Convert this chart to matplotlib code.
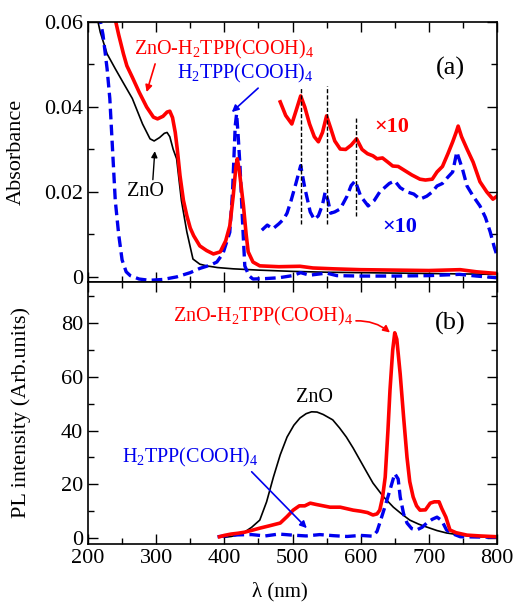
import matplotlib
matplotlib.use("Agg")
import matplotlib.pyplot as plt
from matplotlib.ticker import MultipleLocator

plt.rcParams["font.family"] = "serif"
plt.rcParams["font.serif"] = ["Liberation Serif", "DejaVu Serif"]
plt.rcParams["mathtext.fontset"] = "custom"
plt.rcParams["mathtext.rm"] = "Liberation Serif"
plt.rcParams["mathtext.it"] = "Liberation Serif:italic"
plt.rcParams["mathtext.bf"] = "Liberation Serif:bold"

RED = "#ff0000"
BLUE = "#0000ee"

# ===== (a) absorbance =====
abs_zno_x = [212, 218, 228, 240, 251, 265, 280, 291, 297, 305, 312, 316, 320, 325, 330, 337,
             345, 354, 364, 374, 390, 413, 450, 500, 550, 600, 650, 700, 750, 800]
abs_zno_y = [0.062, 0.0576, 0.0525, 0.049, 0.0459, 0.042, 0.036, 0.0325, 0.032, 0.0328, 0.0338,
             0.034, 0.033, 0.030, 0.0278, 0.018, 0.0106, 0.0042, 0.0030, 0.0026, 0.0022, 0.0019,
             0.0016, 0.0013, 0.0011, 0.0010, 0.0009, 0.0008, 0.0007, 0.0006]

abs_hyb_x = [238, 245, 252, 257, 265, 275, 286, 296, 302, 310, 316, 320, 324, 328, 331, 335,
             340, 345, 350, 355, 364, 374, 384, 394, 402, 408, 413, 417, 419, 422, 428, 432,
             435, 442, 452, 480, 511, 530, 560, 600, 650, 700, 746, 770, 800]
abs_hyb_y = [0.062, 0.057, 0.0525, 0.0497, 0.047, 0.0435, 0.040, 0.0376, 0.0372, 0.0378,
             0.0388, 0.039, 0.0375, 0.034, 0.030, 0.0238, 0.018, 0.0144, 0.0115, 0.0097,
             0.0073, 0.0062, 0.0054, 0.0059, 0.0085, 0.012, 0.019, 0.026, 0.0278, 0.025,
             0.0168, 0.010, 0.0059, 0.0035, 0.0026, 0.0024, 0.0025, 0.0021, 0.0019, 0.0017,
             0.0016, 0.0015, 0.0017, 0.0012, 0.0008]

abs_hyb10_x = [482, 490, 499, 505, 512, 518, 525, 532, 538, 544, 550, 556, 562, 570, 578, 586,
               594, 602, 610, 618, 624, 632, 640, 647, 655, 665, 675, 687, 695, 705, 712, 720,
               728, 735, 740, 743, 748, 756, 765, 775, 785, 794, 800]
abs_hyb10_y = [0.0412, 0.038, 0.036, 0.039, 0.0426, 0.040, 0.036, 0.033, 0.0318, 0.034, 0.0379,
               0.035, 0.032, 0.0301, 0.030, 0.031, 0.0325, 0.030, 0.029, 0.0285, 0.0278, 0.028,
               0.027, 0.0261, 0.026, 0.025, 0.024, 0.023, 0.0228, 0.023, 0.0247, 0.026, 0.029,
               0.0318, 0.034, 0.0355, 0.033, 0.0301, 0.027, 0.0224, 0.020, 0.0183, 0.019]

abs_por_x = [216, 222, 228, 232, 236, 240, 245, 250, 256, 262, 275, 290, 310, 330, 350, 364,
             380, 389, 398, 404, 408, 412, 416, 418, 420, 423, 427, 430, 436, 442, 460, 480,
             500, 512, 525, 540, 550, 565, 600, 650, 700, 745, 770, 800]
abs_por_y = [0.062, 0.057, 0.049, 0.042, 0.030, 0.018, 0.010, 0.004, 0.0012, 0.0003, -0.0005,
             -0.0008, -0.0006, 0.0000, 0.0010, 0.0020, 0.0028, 0.0035, 0.0055, 0.0085, 0.0105,
             0.020, 0.0356, 0.0384, 0.034, 0.026, 0.012, 0.0026, 0.0003, -0.0005, -0.0004,
             -0.0002, 0.0003, 0.0010, 0.0004, 0.0007, 0.0009, 0.0003, 0.0002, 0.0002, 0.0003,
             0.0006, 0.0002, -0.0002]

abs_por10_x = [455, 463, 471, 480, 487, 492, 498, 505, 512, 518, 526, 532, 538, 544, 548, 552,
               556, 562, 570, 580, 586, 592, 600, 611, 620, 628, 635, 642, 650, 658, 668, 678,
               687, 697, 705, 712, 720, 728, 735, 741, 746, 750, 756, 765, 775, 783, 790, 796, 800]
abs_por10_y = [0.0110, 0.0122, 0.0113, 0.0125, 0.0136, 0.0150, 0.018, 0.022, 0.0262, 0.021,
               0.0153, 0.0135, 0.0144, 0.017, 0.020, 0.018, 0.015, 0.0153, 0.016, 0.019, 0.0215,
               0.0226, 0.019, 0.0167, 0.018, 0.020, 0.021, 0.022, 0.0226, 0.021, 0.020, 0.0195,
               0.0183, 0.019, 0.020, 0.0214, 0.022, 0.0235, 0.0247, 0.0294, 0.027, 0.025,
               0.0214, 0.019, 0.0167, 0.014, 0.0106, 0.007, 0.005]

peak_x = [512, 550, 593]
peak_top = [0.0447, 0.045, 0.0379]
peak_bot = [0.0125, 0.0125, 0.0144]

# ===== (b) PL =====
pl_zno_x = [400, 410, 420, 430, 440, 452, 462, 472, 482, 492, 502, 511, 520, 528, 536, 545, 552,
            559, 569, 579, 589, 599, 609, 618, 633, 648, 660, 672, 685, 697, 712, 726, 750, 771, 800]
pl_zno_y = [0.3, 0.6, 1.2, 2.3, 4.0, 6.7, 13.5, 22.7, 31, 37.6, 42, 44.7, 46.3, 47, 46.9, 46, 45,
            44, 41, 37.6, 33.5, 29, 24.5, 20.5, 15.5, 11.5, 9, 6.7, 5.2, 4.1, 2.8, 1.9, 1.0, 0.5, 0.2]

pl_hyb_x = [393, 400, 410, 420, 430, 442, 452, 465, 482, 492, 501, 510, 518, 526, 535, 545, 555,
            570, 589, 600, 610, 618, 624, 628, 632, 636, 640, 643, 647, 650, 653, 658, 663, 668,
            672, 677, 682, 687, 695, 702, 708, 715, 719, 725, 731, 740, 756, 775, 800]
pl_hyb_y = [0.5, 1.0, 1.5, 1.8, 2.2, 3.0, 3.7, 4.5, 5.6, 8, 10.4, 12, 12, 13, 12.5, 12, 11.5,
            11.5, 10.4, 10.0, 9.5, 8.6, 9, 10.4, 15, 22.7, 40, 55, 70, 76.4, 74, 61, 45, 30,
            21, 15.3, 12, 10.4, 10.5, 13, 13.5, 13.5, 11, 7.8, 3.0, 2.0, 1.1, 0.8, 0.5]

pl_por_x = [390, 400, 420, 440, 460, 480, 500, 520, 540, 560, 580, 600, 618, 624, 628, 636, 643,
            650, 655, 658, 663, 668, 675, 682, 690, 697, 705, 712, 719, 726, 736, 746, 770, 800]
pl_por_y = [0.5, 0.8, 1.2, 1.3, 0.8, 1.5, 1.1, 0.8, 1.3, 0.9, 0.6, 1.0, 0.7, 2.5, 5.6, 12, 17.9,
            24, 22, 15.3, 9, 5.6, 3.5, 3.0, 4.0, 5.6, 7, 7.8, 6.5, 3.0, 1.5, 0.5, 0.4, 0.3]

W, H = 519, 605
fig = plt.figure(figsize=(W / 100, H / 100), dpi=100)
left, right = 88 / W, 497 / W
ax_a = fig.add_axes([left, 1 - 282 / H, right - left, (282 - 22) / H])
ax_b = fig.add_axes([left, 1 - 544 / H, right - left, (544 - 282) / H])

dash = (0, (3.2, 1.6))

ax_a.plot(abs_zno_x, abs_zno_y, color="black", lw=1.2)
ax_a.plot(abs_por_x, abs_por_y, color=BLUE, lw=2.4, ls=dash)
ax_a.plot(abs_hyb_x, abs_hyb_y, color=RED, lw=2.6)
ax_a.plot(abs_por10_x, abs_por10_y, color=BLUE, lw=2.4, ls=dash)
ax_a.plot(abs_hyb10_x, abs_hyb10_y, color=RED, lw=2.6)
ax_a.vlines(peak_x, peak_bot, peak_top, colors="black", lw=1.0, linestyles=(0, (3, 1.5)))

ax_a.set_xlim(200, 800)
ax_a.set_ylim(-0.0012, 0.06)
ax_a.yaxis.set_minor_locator(MultipleLocator(0.01))
ax_a.set_yticks([0, 0.02, 0.04, 0.06])
ax_a.set_yticklabels(["0", "0.02", "0.04", "0.06"])
ax_a.tick_params(labelbottom=False)
ax_a.set_ylabel("Absorbance", fontsize=16)

lab = 14.5
ax_a.annotate("ZnO-H$_2$TPP(COOH)$_4$", xy=(286, 0.0435), xytext=(268, 0.0535),
              color=RED, fontsize=lab, va="center", ha="left",
              arrowprops=dict(arrowstyle="-|>", color=RED, lw=1.2, shrinkA=0, shrinkB=0,
                              mutation_scale=10, relpos=(0.12, 0)))
ax_a.annotate("H$_2$TPP(COOH)$_4$", xy=(411, 0.0388), xytext=(330, 0.0478),
              color=BLUE, fontsize=lab, va="center", ha="left",
              arrowprops=dict(arrowstyle="-|>", color=BLUE, lw=1.2, shrinkA=0, shrinkB=0,
                              mutation_scale=10, relpos=(0.62, 0)))
ax_a.annotate("ZnO", xy=(298, 0.0296), xytext=(284, 0.0200),
              color="black", fontsize=lab, va="center", ha="center",
              arrowprops=dict(arrowstyle="-|>", color="black", lw=1.0, shrinkA=0, shrinkB=0,
                              mutation_scale=9, relpos=(0.7, 1)))
ax_a.text(731, 0.049, "(a)", fontsize=19, ha="center", va="center")
ax_a.text(646, 0.0352, "×10", color=RED, fontsize=16, fontweight="bold", ha="center", va="center")
ax_a.text(658, 0.0118, "×10", color=BLUE, fontsize=16, fontweight="bold", ha="center", va="center")

ax_b.plot(pl_zno_x, pl_zno_y, color="black", lw=1.2)
ax_b.plot(pl_por_x, pl_por_y, color=BLUE, lw=2.4, ls=dash)
ax_b.plot(pl_hyb_x, pl_hyb_y, color=RED, lw=2.6)

ax_b.set_xlim(200, 800)
ax_b.set_ylim(-2.2, 95.3)
ax_b.yaxis.set_major_locator(MultipleLocator(20))
ax_b.yaxis.set_minor_locator(MultipleLocator(10))
ax_b.set_ylabel("PL intensity (Arb.units)", fontsize=16)
ax_b.set_xlabel("λ (nm)", fontsize=15)
ax_b.xaxis.set_label_coords(0.47, -0.145)

ax_b.annotate("ZnO-H$_2$TPP(COOH)$_4$", xy=(643, 76.5), xytext=(325, 82.5),
              color=RED, fontsize=lab, va="center", ha="left",
              arrowprops=dict(arrowstyle="-|>", color=RED, lw=1.2, shrinkA=0, shrinkB=0,
                              mutation_scale=10, relpos=(1, 0.3),
                              connectionstyle="arc3,rad=-0.2"))
ax_b.annotate("H$_2$TPP(COOH)$_4$", xy=(521, 3.7), xytext=(250, 30),
              color=BLUE, fontsize=lab, va="center", ha="left",
              arrowprops=dict(arrowstyle="-|>", color=BLUE, lw=1.2, shrinkA=0, shrinkB=0,
                              mutation_scale=10, relpos=(0.93, 0)))
ax_b.text(533, 52.5, "ZnO", fontsize=lab, ha="center", va="center")
ax_b.text(731, 80, "(b)", fontsize=19, ha="center", va="center")

for ax in (ax_a, ax_b):
    ax.xaxis.set_major_locator(MultipleLocator(100))
    ax.xaxis.set_minor_locator(MultipleLocator(50))
    ax.tick_params(which="both", direction="in", top=True, right=True, labelsize=16)
    ax.tick_params(which="major", length=7, width=1.0)
    ax.tick_params(which="minor", length=4, width=1.0)
    for s in ax.spines.values():
        s.set_linewidth(1.2)

ax_a.yaxis.set_label_coords(-0.152, 0.5)
ax_b.yaxis.set_label_coords(-0.140, 0.5)

fig.savefig("out.png", dpi=100)
